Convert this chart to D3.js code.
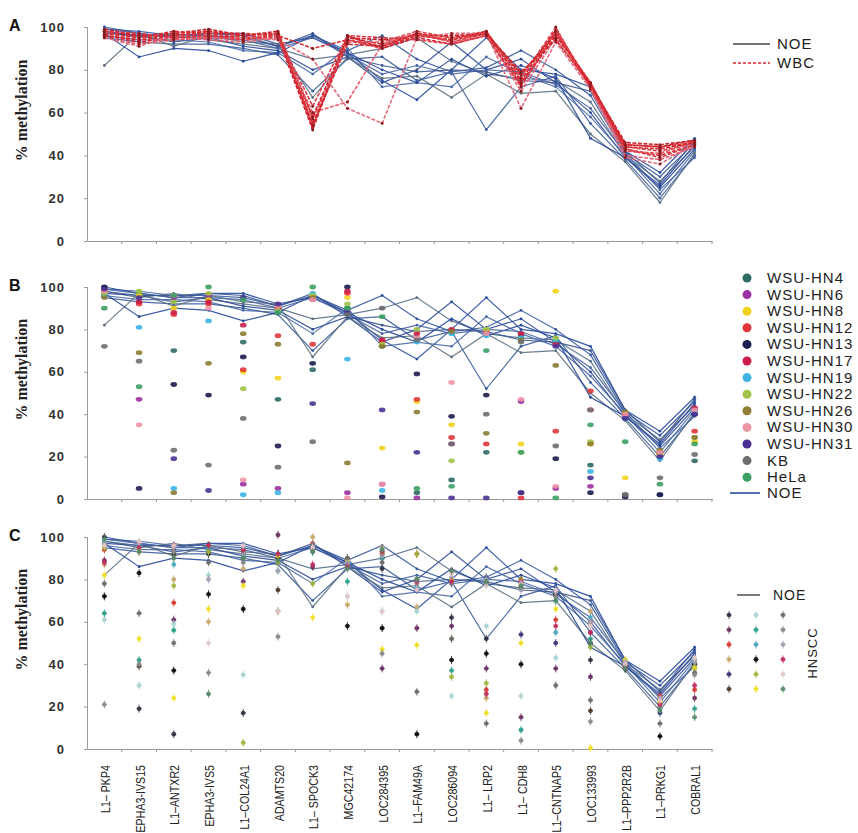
<!DOCTYPE html>
<html><head><meta charset="utf-8">
<script src="https://cdn.jsdelivr.net/npm/d3@7"></script>
<style>body{margin:0;background:#fff;}svg{display:block;}</style>
</head><body>
<svg id="c" width="858" height="833"></svg>
<script>
// ---------- DATA ----------
const categories = ["L1– PKP4","EPHA3-IVS15","L1–ANTXR2","EPHA3-IVS5","L1–COL24A1","ADAMTS20","L1– SPOCK3","MGC42174","LOC284395","L1–FAM49A","LOC286094","L1– LRP2","L1– CDH8","L1–CNTNAP5","LOC133993","L1–PPP2R2B","L1–PRKG1","COBRAL1"];
const yTicks = [0,20,40,60,80,100];

// NOE (normal oral epithelium) samples, one array per sample, values per category
const noe1  = [100,97,95,97,97,92,95,88,75,66,80,95,80,78,72,42,32,48];
const noe2  = [99,98,96,96,95,91,96,89,96,85,79,81,89,80,68,41,30,46];
const noe3  = [98,95,97,94,92,90,85,87,90,95,84,78,76,75,65,40,28,44];
const noe4  = [97,96,93,95,91,89,80,86,74,80,93,80,85,74,60,39,25,43];
const noe5  = [96,94,94,93,89,88,78,90,72,74,72,86,78,72,58,40,22,42];
const noe6  = [95,93,92,92,90,87,70,85,86,75,79,52,72,77,55,38,20,40];
const noe7  = [82,97,91,96,93,92,67,86,76,77,67,78,69,70,50,37,18,41];
const noe8  = [97,86,90,89,84,88,96,88,80,74,85,77,82,76,48,39,26,45];
const noe9  = [99,97,95,95,94,90,95,87,78,82,78,80,79,73,62,41,24,39];
const noe10 = [98,96,96,97,96,91,97,86,82,79,80,79,75,74,70,42,27,47];
const noeSeries = [noe1,noe2,noe3,noe4,noe5,noe6,noe7,noe8,noe9,noe10];

// WBC samples
const wbc1  = [98,96,97,98,96,97,53,95,92,97,93,97,75,99,73,45,44,47];
const wbc2  = [97,95,96,97,95,96,55,94,91,96,94,97,77,98,72,44,42,46];
const wbc3  = [96,93,95,96,95,95,52,96,90,95,92,96,73,96,74,43,40,45];
const wbc4  = [95,92,94,95,94,97,57,93,93,98,95,98,76,100,71,42,41,46];
const wbc5  = [99,96,97,99,96,98,58,95,94,96,96,97,78,97,73,46,45,47];
const wbc6  = [96,94,95,94,93,95,60,65,92,97,93,96,70,95,72,40,38,44];
const wbc7  = [95,91,96,95,95,94,85,62,55,95,97,97,62,93,71,39,36,45];
const wbc8  = [97,95,98,97,97,96,90,94,90,96,94,98,74,97,74,44,43,46];
const wbc9  = [98,97,95,96,94,96,63,96,95,94,92,96,72,98,72,43,39,45];
const wbc10 = [96,94,96,98,96,97,54,92,91,97,95,97,79,94,73,45,44,46];
const wbcSeries = [wbc1,wbc2,wbc3,wbc4,wbc5,wbc6,wbc7,wbc8,wbc9,wbc10];

// Cell lines (panel B)
const cellLines = ["WSU-HN4","WSU-HN6","WSU-HN8","WSU-HN12","WSU-HN13","WSU-HN17","WSU-HN19","WSU-HN22","WSU-HN26","WSU-HN30","WSU-HN31","KB","HeLa"];
const cellColors = ["#2f6a66","#9a30a2","#f3d21e","#e0363a","#1c1c50","#cc1e48","#3cb4e6","#a2c44a","#8c7c34","#ec94a4","#4a3294","#6e6e6e","#3ca064"];
// one row per category, values in cellLines order
const cellByCategory = [
  [96,97,98,99,100,98,96,97,95,98,99,72,90],
  [97,47,96,92,5,93,81,98,69,35,95,65,53],
  [70,95,90,87,54,88,5,93,3,96,19,23,96],
  [95,96,94,92,49,93,84,97,64,90,4,16,100],
  [74,7,60,61,67,82,2,52,78,9,95,38,94],
  [47,5,57,77,25,90,3,89,73,91,92,15,88],
  [61,94,96,73,64,95,97,96,95,94,45,27,100],
  [90,3,95,97,100,98,66,92,17,0.5,88,87,90],
  [72,7,24,74,1,75,4,73,72,7,42,90,86],
  [3,0.5,46,47,59,78,74,80,41,76,22,75,5],
  [9,26,35,29,39,80,78,18,79,55,0.5,26,6],
  [22,78,80,26,49,79,77,80,31,78,0.5,40,70],
  [77,46,26,0.5,3,78,76,22,75,47,3,74,22],
  [74,5,98,32,19,73,75,76,63,6,72,25,0.5],
  [16,6,26,51,3,42,13,27,26,42,10,42,35],
  [2,40,10,40,1,39,38,41,41,40,38,2,27],
  [2,20,22,21,2,22,19,21,23,22,20,10,7],
  [18,42,27,32,40,43,41,29,29,42,40,21,26]
];

// HNSCC tumours (panel C), 18 samples
const hnsccColors = ["#2f2f3f","#6a3060","#d63a30","#c8aa6a","#3a3478","#4a3a28",
                     "#a8d4d4","#2aa08a","#48a8c0","#0a0a0a","#a0b43c","#f0e024",
                     "#6a6a6a","#8a8a8a","#a0a0b4","#c03060","#e4c8c8","#5a8a6a"];
const hnsccByCategory = [
  [100,89,94,87,97,96,61,64,98,72,95,82,78,21,97,88,96,99],
  [19,95,97,93,96,39,30,42,96,83,94,52,64,40,97,95,98,93],
  [7,61,69,80,94,92,59,56,87,37,77,24,50,93,95,96,96,90],
  [92,95,96,60,94,93,82,95,94,73,93,66,88,36,80,96,50,26],
  [17,79,94,85,92,90,35,91,95,66,3,77,93,88,92,94,96,90],
  [92,101,91,90,92,75,84,89,92,90,88,91,65,53,84,92,65,89],
  [95,86,97,100,94,95,96,93,96,95,78,62,96,94,95,87,95,93],
  [90,88,89,68,87,88,72,79,88,58,86,89,90,87,88,86,72,85],
  [85,38,93,95,90,92,65,90,94,57,92,47,88,45,91,93,65,94],
  [80,57,92,67,75,78,65,80,76,7,92,49,27,80,78,79,75,80],
  [62,58,84,52,79,80,25,37,78,42,34,80,52,78,81,79,83,84],
  [52,38,28,24,81,78,58,79,80,45,31,17,12,78,80,26,77,79],
  [80,15,79,78,54,76,25,9,78,40,80,50,77,4,75,79,78,77],
  [74,38,61,73,50,72,43,70,55,73,85,66,30,72,74,58,75,70],
  [42,34,60,65,55,18,58,52,62,50,48,0.5,23,13,60,55,58,50],
  [40,41,39,42,38,40,41,39,40,38,41,42,39,40,41,39,40,38],
  [24,22,25,21,17,23,20,19,21,6,22,22,12,20,24,21,23,18],
  [42,24,28,36,40,38,42,19,41,40,39,38,36,35,41,30,43,15]
];

// ---------- STYLE ----------
const noeColors = ["#2a4d9e","#34589f","#56708a","#2e4a96","#4a6aa8","#3c5c9a","#5c7080","#27479a","#4866a4","#3a5590"];
const wbcColors = ["#d8262e","#e03a40","#d42030","#e2505a","#cc2228","#e86070","#e07080","#d83038","#dc3a44","#d02a30"];

const svg = d3.select("#c");
const x = d3.scaleBand().domain(categories).range([87,712]);
const cx = c => x(c) + x.bandwidth()/2;

const panels = [
  {id:"A", top:27, bottom:241},
  {id:"B", top:287, bottom:499},
  {id:"C", top:537, bottom:749}
];
panels.forEach(p => p.y = d3.scaleLinear().domain([0,100]).range([p.bottom,p.top]));

function drawAxes(p){
  const g = svg.append("g");
  const ya = d3.axisLeft(p.y).tickValues(yTicks).tickSize(3).tickPadding(19);
  const yg = g.append("g").attr("transform","translate(87,0)").call(ya);
  yg.select(".domain").attr("stroke","#999");
  yg.selectAll(".tick line").attr("stroke","#999");
  yg.selectAll("text").attr("font-family","Liberation Sans, Arial, sans-serif")
    .attr("font-weight","bold").attr("font-size",13).attr("fill","#333").attr("letter-spacing","1px");
  const xa = d3.axisBottom(x).tickSize(0).tickFormat("");
  const xg = g.append("g").attr("transform",`translate(0,${p.bottom})`).call(xa);
  xg.select(".domain").attr("stroke","#999");
  const bounds = categories.slice(1).map(c => x(c)).concat([x.range()[1]]);
  g.selectAll(null).data(bounds).enter().append("line")
    .attr("x1",d=>d).attr("x2",d=>d).attr("y1",p.bottom).attr("y2",p.bottom+3)
    .attr("stroke","#999");
  svg.append("text").attr("x",9).attr("y",p.top+4).text(p.id)
    .attr("font-family","Liberation Sans, Arial, sans-serif").attr("font-weight","bold").attr("font-size",16).attr("fill","#111");
  svg.append("text").attr("transform",`translate(27,${p.y(61)}) rotate(-90)`)
    .attr("text-anchor","middle").text("% methylation")
    .attr("font-family","Liberation Serif, Times New Roman, serif").attr("font-weight","bold").attr("font-size",16).attr("fill","#222");
}
panels.forEach(drawAxes);

const lineGen = y => d3.line().x((d,i)=>cx(categories[i])).y(d=>y(d));

function drawNOE(p){
  const g = svg.append("g");
  noeSeries.forEach((s,k)=>{
    g.append("path").attr("d",lineGen(p.y)(s)).attr("fill","none")
      .attr("stroke",noeColors[k]).attr("stroke-width",1.2).attr("opacity",0.9);
    g.selectAll(null).data(s).enter().append("circle")
      .attr("cx",(d,i)=>cx(categories[i])).attr("cy",d=>p.y(d)).attr("r",1.4)
      .attr("fill",noeColors[k]);
  });
}

// Panel A
const pA = panels[0];
drawNOE(pA);
const gW = svg.append("g");
wbcSeries.forEach((s,k)=>{
  gW.append("path").attr("d",lineGen(pA.y)(s)).attr("fill","none")
    .attr("stroke",wbcColors[k]).attr("stroke-width",1.6).attr("stroke-dasharray","4,1.5");
  gW.selectAll(null).data(s).enter().append("circle")
    .attr("cx",(d,i)=>cx(categories[i])).attr("cy",d=>pA.y(d)).attr("r",1.5)
    .attr("fill","#8a1a20");
});
const lgA = svg.append("g").attr("font-family","Liberation Sans, Arial, sans-serif").attr("font-size",15).attr("fill","#222");
lgA.append("line").attr("x1",733).attr("x2",770).attr("y1",44).attr("y2",44).attr("stroke","#444").attr("stroke-width",1.4);
lgA.append("text").attr("x",777).attr("y",49).text("NOE").attr("letter-spacing","1px");
lgA.append("line").attr("x1",733).attr("x2",770).attr("y1",63).attr("y2",63).attr("stroke","#d8262e").attr("stroke-width",1.4).attr("stroke-dasharray","3,2");
lgA.append("text").attr("x",777).attr("y",68).text("WBC").attr("letter-spacing","1px");

// Panel B
const pB = panels[1];
drawNOE(pB);
const gB = svg.append("g");
cellByCategory.forEach((vals,ci)=>{
  vals.forEach((v,k)=>{
    gB.append("ellipse").attr("cx",cx(categories[ci])).attr("cy",pB.y(v))
      .attr("rx",3.3).attr("ry",2.4).attr("fill",cellColors[k]).attr("opacity",0.9);
  });
});
const lgB = svg.append("g").attr("font-family","Liberation Sans, Arial, sans-serif").attr("font-size",15).attr("fill","#222");
cellLines.forEach((n,k)=>{
  const yy = 278 + k*16.6;
  lgB.append("circle").attr("cx",747).attr("cy",yy).attr("r",4.5).attr("fill",cellColors[k]);
  lgB.append("text").attr("x",767).attr("y",yy+5).text(n).attr("letter-spacing","1px");
});
lgB.append("line").attr("x1",730).attr("x2",760).attr("y1",493).attr("y2",493).attr("stroke","#2a4d9e").attr("stroke-width",1.6);
lgB.append("text").attr("x",767).attr("y",498).text("NOE").attr("letter-spacing","1px");

// Panel C
const pC = panels[2];
drawNOE(pC);
const gC = svg.append("g");
function hMarker(g,xx,yy,col){
  g.append("line").attr("x1",xx).attr("x2",xx).attr("y1",yy-4).attr("y2",yy+4).attr("stroke",col).attr("stroke-width",1).attr("opacity",0.8);
  g.append("line").attr("x1",xx-2.5).attr("x2",xx+2.5).attr("y1",yy).attr("y2",yy).attr("stroke",col).attr("stroke-width",1).attr("opacity",0.8);
  g.append("circle").attr("cx",xx).attr("cy",yy).attr("r",2.3).attr("fill",col).attr("opacity",0.9);
}
hnsccByCategory.forEach((vals,ci)=>{
  vals.forEach((v,k)=> hMarker(gC,cx(categories[ci]),pC.y(v),hnsccColors[k]));
});
const lgC = svg.append("g").attr("font-family","Liberation Sans, Arial, sans-serif").attr("font-size",14).attr("fill","#222");
lgC.append("line").attr("x1",737).attr("x2",760).attr("y1",595).attr("y2",595).attr("stroke","#333").attr("stroke-width",1.3);
lgC.append("text").attr("x",773).attr("y",600).text("NOE").attr("letter-spacing","1px");
hnsccColors.forEach((c,k)=>{
  const col = Math.floor(k/6), row = k%6;
  hMarker(lgC, 729 + col*27, 615 + row*14.8, c);
});
lgC.append("text").attr("transform","translate(817,653) rotate(-90)").attr("text-anchor","middle")
  .text("HNSCC").attr("font-size",13).attr("letter-spacing","1px");

// x labels (panel C)
const gL = svg.append("g").attr("font-family","Liberation Sans, Arial, sans-serif").attr("font-size",13).attr("fill","#222");
categories.forEach(c=>{
  gL.append("text").attr("transform",`translate(${cx(c)+1},${pC.bottom+16}) rotate(-90) scale(0.82,1)`)
    .attr("text-anchor","end").attr("dy","0.35em").text(c);
});
</script>
</body></html>
